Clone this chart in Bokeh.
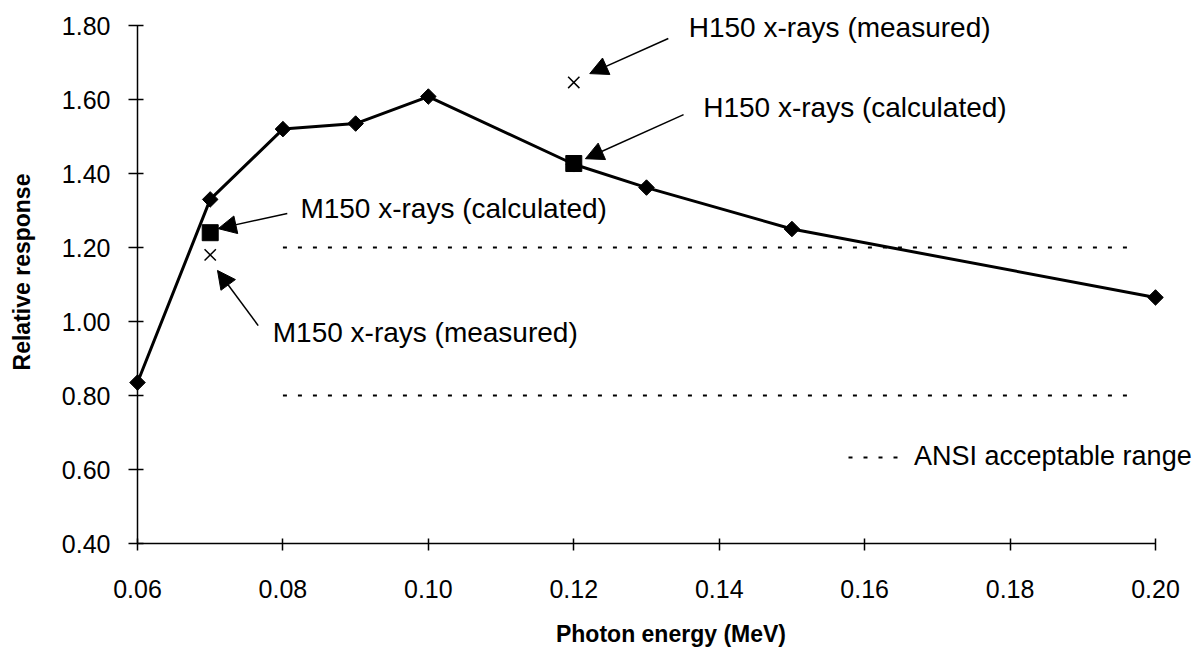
from bokeh.plotting import figure
from bokeh.models import (Range1d, FixedTicker, NumeralTickFormatter, Label, Arrow,
                          NormalHead, Legend, LegendItem)
from bokeh.embed import file_html
from bokeh.resources import INLINE
import math

# ---- data ----
energy = [0.06, 0.07, 0.08, 0.09, 0.10, 0.12, 0.13, 0.15, 0.20]
response = [0.835, 1.33, 1.52, 1.535, 1.608, 1.425, 1.362, 1.25, 1.065]

calc_energy = [0.07, 0.12]
calc_response = [1.24, 1.427]

meas_energy = [0.07, 0.12]
meas_response = [1.18, 1.646]

ansi_energy = [0.08, 0.197]
ansi_upper = [1.20, 1.20]
ansi_lower = [0.80, 0.80]

x_ticks = [0.06, 0.08, 0.10, 0.12, 0.14, 0.16, 0.18, 0.20]
y_ticks = [0.40, 0.60, 0.80, 1.00, 1.20, 1.40, 1.60, 1.80]

# annotation texts and their placement (data units)
note_texts = ["H150 x-rays (measured)", "H150 x-rays (calculated)",
              "M150 x-rays (calculated)", "M150 x-rays (measured)"]
note_x = [0.1358, 0.1378, 0.0824, 0.0786]
note_y = [1.795, 1.578, 1.305, 0.970]
arrow_x0 = [0.1330, 0.1351, 0.0806, 0.0766]
arrow_y0 = [1.765, 1.559, 1.292, 0.989]
arrow_x1 = [0.1222, 0.1216, 0.0711, 0.0710]
arrow_y1 = [1.670, 1.440, 1.251, 1.138]

FONT = "Liberation Sans"

# frame extends to the top/right edges so that texts are not clipped;
# the axes themselves are bounded to the reference's tick span
p = figure(width=1204, height=660,
           x_range=Range1d(0.06, 0.20674), y_range=Range1d(0.40, 1.8676),
           output_backend="svg", toolbar_location=None,
           min_border_left=137, min_border_right=0,
           min_border_top=0, min_border_bottom=117)
p.outline_line_color = None
p.xgrid.visible = False
p.ygrid.visible = False
p.background_fill_color = "white"
p.border_fill_color = "white"

# axes
p.xaxis.ticker = FixedTicker(ticks=x_ticks)
p.yaxis.ticker = FixedTicker(ticks=y_ticks)
p.xaxis.bounds = (x_ticks[0], x_ticks[-1])
p.yaxis.bounds = (y_ticks[0], y_ticks[-1])
p.xaxis.formatter = NumeralTickFormatter(format="0.00")
p.yaxis.formatter = NumeralTickFormatter(format="0.00")
for ax in (p.xaxis, p.yaxis):
    ax.axis_line_color = "black"
    ax.axis_line_width = 1.5
    ax.major_tick_line_color = "black"
    ax.major_tick_line_width = 1.5
    ax.minor_tick_line_color = None
    ax.major_label_text_font = FONT
    ax.major_label_text_font_size = "25px"
    ax.major_label_text_color = "black"
    ax.axis_label_text_font = FONT
    ax.axis_label_text_font_style = "bold"
    ax.axis_label_text_font_size = "23px"
    ax.axis_label_text_color = "black"
p.xaxis.major_tick_in = 5
p.xaxis.major_tick_out = 7
p.yaxis.major_tick_in = 6
p.yaxis.major_tick_out = 9
p.xaxis.major_label_standoff = 29
p.yaxis.major_label_standoff = 18
p.xaxis.axis_label = "Photon energy (MeV)"
p.yaxis.axis_label = "Relative response"
p.xaxis.axis_label_standoff = 20
p.yaxis.axis_label_standoff = 24

# ANSI range lines
upper = p.line(ansi_energy, ansi_upper, line_color="black", line_width=2,
               line_dash="4 11")
lower = p.line(ansi_energy, ansi_lower, line_color="black", line_width=2,
               line_dash="4 11")

# main curve
p.line(energy, response, line_color="black", line_width=3, level="overlay")
p.scatter(energy, response, marker="square", angle=math.pi / 4, size=11,
          fill_color="black", line_color="black", level="overlay")

# calculated (squares) and measured (crosses)
p.scatter(calc_energy, calc_response, marker="square", size=16,
          fill_color="black", line_color="black", level="overlay")
p.scatter(meas_energy, meas_response, marker="x", size=16,
          line_color="black", line_width=1.5, level="overlay")

# annotations
for t, x, y in zip(note_texts, note_x, note_y):
    p.add_layout(Label(x=x, y=y, text=t, text_font=FONT, text_font_size="28px",
                       text_color="black", text_align="left",
                       text_baseline="middle", level="overlay"))
for xs, ys, xe, ye in zip(arrow_x0, arrow_y0, arrow_x1, arrow_y1):
    p.add_layout(Arrow(x_start=xs, y_start=ys, x_end=xe, y_end=ye,
                       line_color="black", line_width=1.5, level="overlay",
                       end=NormalHead(size=18, fill_color="black",
                                      line_color="black")))

legend = Legend(items=[LegendItem(label="ANSI acceptable range", renderers=[upper])],
                location=(711, 71), glyph_width=60, glyph_height=20,
                label_standoff=6, padding=0, margin=0, spacing=0,
                border_line_color=None, background_fill_alpha=0,
                label_text_font=FONT, label_text_font_size="27px",
                label_text_color="black", level="overlay")
p.add_layout(legend)

open("out.html", "w").write(file_html(p, INLINE))
